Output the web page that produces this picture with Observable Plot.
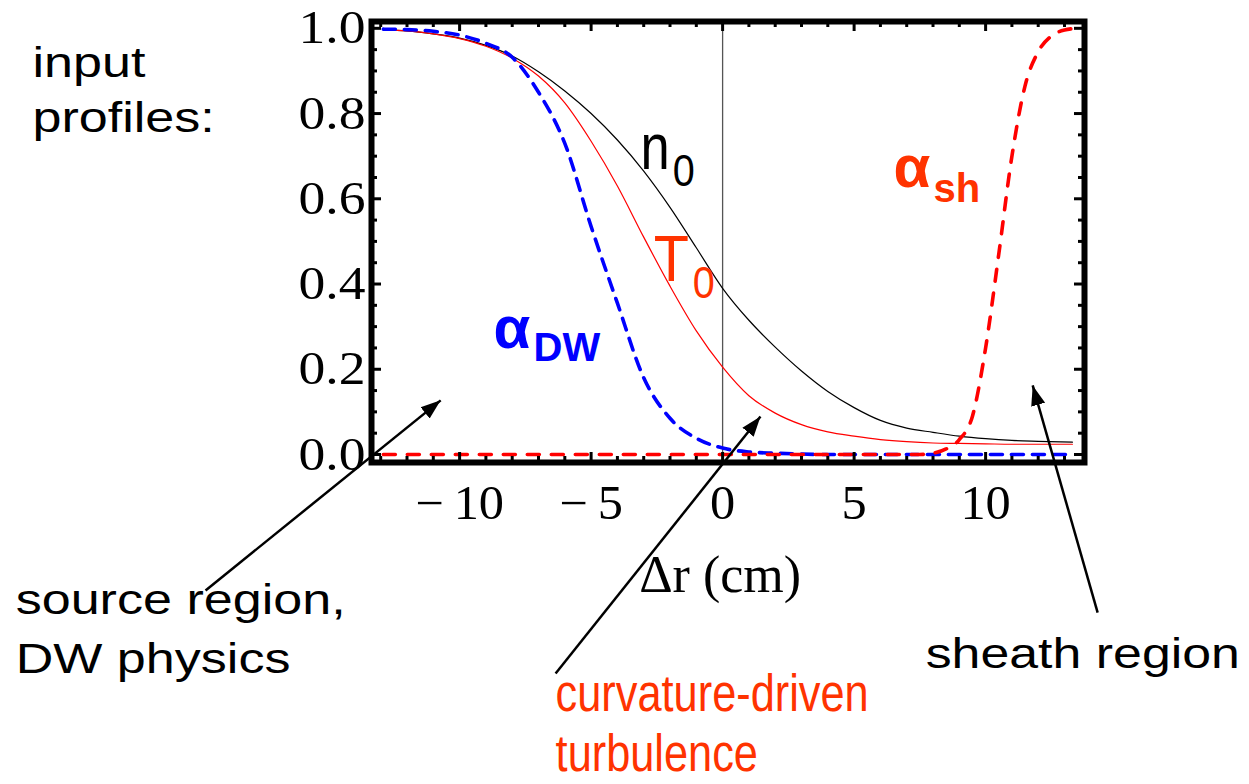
<!DOCTYPE html>
<html><head><meta charset="utf-8">
<script src="https://cdn.jsdelivr.net/npm/d3@7"></script>
<script src="https://cdn.jsdelivr.net/npm/@observablehq/plot@0.6"></script>
<style>
html,body{margin:0;padding:0;background:#fff;}
#chart svg{display:block;}
</style></head><body><div id="chart"></div>
<script>
// ---- data ----
const xs      = [-12.9,-12,-11,-10,-9,-8,-7,-6,-5,-4,-3,-2,-1,0,1,2,3,4,5,6,7,8,9,10,11,12,13.3];
const n0      = [0.997,0.994,0.987,0.977,0.960,0.935,0.898,0.853,0.800,0.738,0.665,0.580,0.485,0.390,0.315,0.252,0.196,0.148,0.110,0.080,0.062,0.052,0.043,0.037,0.033,0.031,0.029];
const T0      = [0.997,0.994,0.987,0.976,0.958,0.930,0.888,0.825,0.735,0.630,0.510,0.395,0.290,0.205,0.138,0.097,0.070,0.053,0.043,0.035,0.030,0.027,0.026,0.025,0.024,0.024,0.024];
const alphaDW = [0.998,0.997,0.993,0.984,0.965,0.932,0.850,0.730,0.535,0.355,0.180,0.085,0.038,0.015,0.006,0.003,0.001,0,0,0,0,0,0,0,0,0,0];
const shX     = [-12.9,-10,-5,0,5,7.5,8,8.5,9,9.5,10,10.5,11,11.5,12,12.5,13,13.5];
const alphaSh = [0,0,0,0,0,0,0.003,0.013,0.035,0.09,0.25,0.47,0.70,0.865,0.945,0.982,0.996,1.0];
const xTicks  = [-10,-5,0,5,10];
const yTicks  = [0,0.2,0.4,0.6,0.8,1.0];
const xMinor  = d3.range(-13, 14).filter(v => v % 5 !== 0);
const yMinor  = d3.range(21).filter(i => i % 4 !== 0).map(i => i / 20);

// annotation anchors, in data units (x = Δr, y = profile value)
const labelAnchors = {
  input:   {x: -26.24, y: 0.756},
  source:  {x: -26.88, y: -0.512},
  curv:    {x: -6.35,  y: -0.742},
  sheath:  {x: 7.72,   y: -0.502},
  axis:    {x: -0.095, y: -0.322},
  n:       {x: -3.12,  y: 0.671}, n0:  {x: -1.90, y: 0.631},
  T:       {x: -2.62,  y: 0.408}, T0:  {x: -1.14, y: 0.368},
  aDW:     {x: -8.71,  y: 0.251}, DW:  {x: -7.19, y: 0.220},
  aSh:     {x: 6.50,   y: 0.627}, sh:  {x: 8.02,  y: 0.592}
};
const arrows = [
  {x1: -19.66, y1: -0.319, x2: -10.72, y2: 0.127},
  {x1: -6.35,  y1: -0.514, x2: 1.44,   y2: 0.089},
  {x1: 14.26,  y1: -0.371, x2: 11.79,  y2: 0.162}
];

// ---- build tables ----
const profiles = xs.map((x, i) => ({x, n0: n0[i], T0: T0[i], aDW: alphaDW[i]}));
const sheath = shX.map((x, i) => ({x, a: alphaSh[i]}));

const SANS = "Liberation Sans, Arial, sans-serif";
const SERIF = "Liberation Serif, Times New Roman, serif";
const ORANGE = "#ff3300";

const W = 1249, H = 784, ML = 371, MR = 165, MT = 21, MB = 322;
const xDom = [-13.35, 13.76], yDom = [-0.0188, 1.016];
const ux = (xDom[1] - xDom[0]) / (W - ML - MR);   // data units per pixel
const uy = (yDom[1] - yDom[0]) / (H - MT - MB);

function lab(key, text, opts) {
  const a = labelAnchors[key];
  return Plot.text([a], {x: "x", y: "y", text: () => text, textAnchor: "start", lineAnchor: "bottom", fontFamily: SANS, ...opts});
}

// inward frame ticks on all four sides
function frameTicks(xv, yv, len) {
  const s = {stroke: "black", strokeWidth: 3};
  return [
    Plot.ruleX(xv, {x: d => d, y1: yDom[0], y2: yDom[0] + len * uy, ...s}),
    Plot.ruleX(xv, {x: d => d, y1: yDom[1], y2: yDom[1] - len * uy, ...s}),
    Plot.ruleY(yv, {y: d => d, x1: xDom[0], x2: xDom[0] + len * ux, ...s}),
    Plot.ruleY(yv, {y: d => d, x1: xDom[1], x2: xDom[1] - len * ux, ...s})
  ];
}

const chart = Plot.plot({
  width: W, height: H,
  marginLeft: ML, marginRight: MR, marginTop: MT, marginBottom: MB,
  x: {domain: xDom},
  y: {domain: yDom},
  style: {background: "white", overflow: "visible", color: "black"},
  marks: [
    Plot.ruleX([0], {stroke: "#555", strokeWidth: 1.3}),
    Plot.line(profiles, {x: "x", y: "n0", stroke: "black", strokeWidth: 1.2, curve: "monotone-x"}),
    Plot.line(profiles, {x: "x", y: "T0", stroke: "#ff0000", strokeWidth: 1.2, curve: "monotone-x"}),
    Plot.line(profiles, {x: "x", y: "aDW", stroke: "#0000ff", strokeWidth: 3.6, strokeDasharray: "12,9", curve: "monotone-x"}),
    Plot.line(sheath, {x: "x", y: "a", stroke: "#ff0000", strokeWidth: 3.6, strokeDasharray: "12,12", curve: "monotone-x"}),
    frameTicks(xMinor, yMinor, 6),
    frameTicks(xTicks, yTicks, 10),
    Plot.frame({stroke: "black", strokeWidth: 6}),
    Plot.axisX(xTicks, {anchor: "bottom", tickSize: 0, tickPadding: 22, fontSize: 48, fontFamily: SERIF, label: null,
      tickFormat: d => d < 0 ? "\u2212\u2009" + (-d) : String(d)}),
    Plot.axisY(yTicks, {anchor: "left", tickSize: 0, tickPadding: 6, fontSize: 47, fontFamily: SERIF, tickFormat: d3.format(".1f"), label: null}),
    Plot.text([labelAnchors.axis], {x: "x", y: "y", text: () => "Δr (cm)", textAnchor: "middle", lineAnchor: "bottom", fontSize: 52, fontFamily: SERIF}),
    lab("input", "input\nprofiles:", {fontSize: 42, lineHeight: 1.31}),
    lab("source", "source region,\nDW physics", {fontSize: 42, lineHeight: 1.4}),
    lab("sheath", "sheath region", {fontSize: 42}),
    lab("curv", "curvature-driven\nturbulence", {fontSize: 51, lineHeight: 1.18, fill: ORANGE}),
    lab("n", "n", {fontSize: 64}),
    lab("n0", "0", {fontSize: 44}),
    lab("T", "T", {fontSize: 64, fill: ORANGE}),
    lab("T0", "0", {fontSize: 44, fill: ORANGE}),
    lab("aDW", "α", {fontSize: 60, fontWeight: "bold", fill: "#0000ff"}),
    lab("DW", "DW", {fontSize: 40, fontWeight: "bold", fill: "#0000ff"}),
    lab("aSh", "α", {fontSize: 60, fontWeight: "bold", fill: ORANGE}),
    lab("sh", "sh", {fontSize: 40, fontWeight: "bold", fill: ORANGE}),
    Plot.link(arrows, {x1: "x1", y1: "y1", x2: "x2", y2: "y2", stroke: "black", strokeWidth: 2.5, markerEnd: "arrow"})
  ]
});

// filled arrowheads
chart.querySelectorAll('g[aria-label="link"] marker').forEach(m => {
  m.setAttribute("viewBox", "-10 -5 10 10");
  m.setAttribute("markerWidth", 8);
  m.setAttribute("markerHeight", 8);
  m.innerHTML = '<path d="M-10,-3.6L0,0L-10,3.6Z" fill="black" stroke="none"></path>';
});

// horizontal stretch of text (the reference text is drawn wider / narrower than the fonts)
function stretchEl(t, sx) {
  const tr = t.getAttribute("transform") || "";
  t.setAttribute("transform", tr + ` scale(${sx},1)`);
}
const textStretch = {
  "inputprofiles:": 1.24, "source region,DW physics": 1.24, "sheath region": 1.235,
  "curvature-driventurbulence": 0.85, "n": 0.82, "T": 0.9, "0": 0.9
};
chart.querySelectorAll('g[aria-label="text"] text').forEach(t => {
  const s = textStretch[t.textContent];
  if (s) stretchEl(t, s);
});
chart.querySelectorAll('g[aria-label="y-axis tick label"] text').forEach(t => stretchEl(t, 1.14));
chart.querySelectorAll('g[aria-label="x-axis tick label"] text').forEach(t => stretchEl(t, 1.05));

document.getElementById("chart").appendChild(chart);
</script></body></html>
